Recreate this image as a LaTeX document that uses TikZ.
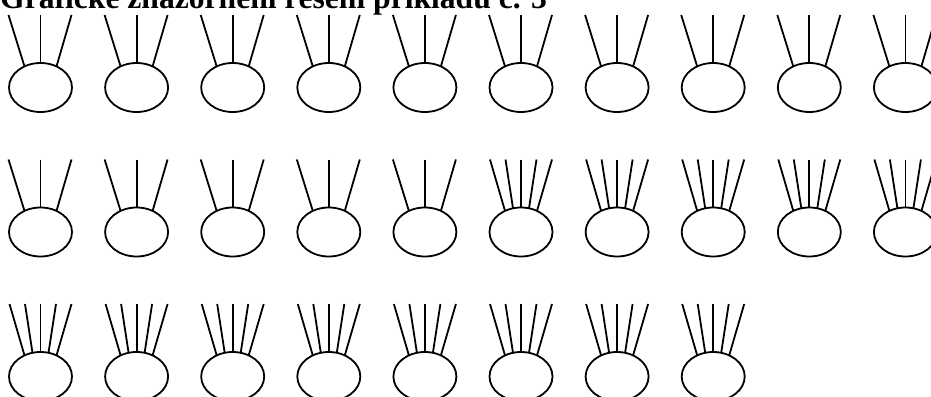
\documentclass[tikz,border=0pt]{standalone}
\usepackage{fontspec}
\setmainfont{Liberation Serif}

\tikzset{
  bulb/.style={line width=1.8pt},
  stalk/.style={line width=1.8pt},
}

\begin{document}
\begin{tikzpicture}[x=1pt,y=-1pt]
  \clip (0,0) rectangle (931,396);
  \node[anchor=base west,inner sep=0pt,font=\bfseries\fontsize{31.6}{36}\selectfont] (title) at (0,9)
    {Grafické znázornění řešení příkladu č. 3};
  % 28 bulbs, 15 with three stalks, 13 with five
  \foreach \n in {0,...,27}{
    \pgfmathsetmacro{\cx}{40.5+96.1*mod(\n,10)}
    \pgfmathsetmacro{\cy}{87.5+144.5*floor(\n/10)}
    \coordinate (c\n) at (\cx,\cy);
    \draw[bulb] (c\n) ellipse (31.5 and 24.5);
    \ifnum\n<15
      \foreach \tx/\bx/\by in {-32/-16/-21.1,0/0/-24.5,31/16/-21.1}
        \draw[stalk] ([shift={(\tx,-72.5)}]c\n) -- ([shift={(\bx,\by)}]c\n);
    \else
      \foreach \tx/\bx/\by in {-31/-16/-21.1,-15.5/-8/-23.7,0/0/-24.5,15.5/8/-23.7,31/16/-21.1}
        \draw[stalk] ([shift={(\tx,-72.5)}]c\n) -- ([shift={(\bx,\by)}]c\n);
    \fi
  }
\end{tikzpicture}
\end{document}
